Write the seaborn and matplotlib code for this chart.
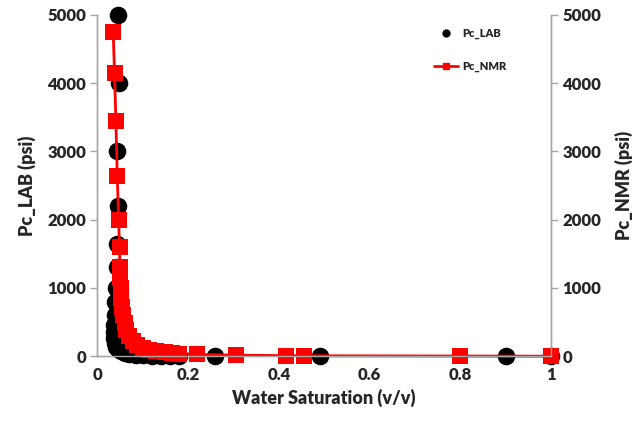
import matplotlib
matplotlib.use("Agg")
import matplotlib.pyplot as plt
import seaborn as sns
import pandas as pd
from matplotlib.lines import Line2D

# Data
lab_sw = [0.046, 0.048, 0.044, 0.045, 0.043, 0.044, 0.042, 0.040, 0.038, 0.036,
          0.036, 0.037, 0.039, 0.042, 0.046, 0.052, 0.060, 0.070, 0.085, 0.100,
          0.120, 0.140, 0.160, 0.180, 0.260, 0.490, 0.900, 1.000]
lab_pc = [5000, 4000, 3000, 2200, 1650, 1300, 1000, 800, 600, 450,
          350, 270, 200, 140, 100, 70, 45, 30, 18, 12,
          8, 5, 3, 2, 1, 0.5, 0.2, 0]

nmr_sw = [0.035, 0.038, 0.041, 0.044, 0.047, 0.049, 0.050, 0.051, 0.052, 0.053,
          0.055, 0.057, 0.060, 0.064, 0.070, 0.078, 0.088, 0.100, 0.115, 0.130,
          0.150, 0.165, 0.180, 0.220, 0.305, 0.415, 0.455, 0.800, 1.000]
nmr_pc = [4750, 4150, 3450, 2640, 2000, 1600, 1300, 1150, 1000, 850,
          720, 600, 480, 380, 290, 220, 160, 120, 90, 70,
          55, 45, 38, 25, 15, 8, 6, 2, 0]

x_ticks = [0, 0.2, 0.4, 0.6, 0.8, 1]
x_labels = ["0", "0.2", "0.4", "0.6", "0.8", "1"]
y_ticks = [0, 1000, 2000, 3000, 4000, 5000]

df_lab = pd.DataFrame({"Sw": lab_sw, "Pc": lab_pc})
df_nmr = pd.DataFrame({"Sw": nmr_sw, "Pc": nmr_pc})

sns.set_style("white")
plt.rcParams["font.family"] = ["Lato", "DejaVu Sans"]
W = "heavy"
plt.rcParams["font.weight"] = W

fig = plt.figure(figsize=(6.4, 4.23), dpi=100)
ax = fig.add_axes([0.152, 0.158, 0.709, 0.807])
ax2 = ax.twinx()

sns.scatterplot(data=df_lab, x="Sw", y="Pc", ax=ax, color="black", marker="o",
                s=160, edgecolor="black", linewidth=0, clip_on=False, zorder=3)
sns.lineplot(data=df_nmr, x="Sw", y="Pc", ax=ax2, color="#ff0000", marker="s",
             markersize=11, markeredgewidth=0, linewidth=2, sort=False,
             estimator=None, clip_on=False)

for a in (ax, ax2):
    a.set_xlim(0, 1)
    a.set_ylim(0, 5000)
    a.set_yticks(y_ticks)
    a.spines["top"].set_visible(False)
    for s in ("left", "right", "bottom"):
        a.spines[s].set_color("#a6a6a6")
        a.spines[s].set_linewidth(1.0)
    a.tick_params(axis="both", length=5, width=1, color="#a6a6a6",
                  labelsize=12, direction="out", pad=3)

ax.set_xticks(x_ticks)
ax.set_xticklabels(x_labels, fontweight=W)
ax.set_yticklabels([str(t) for t in y_ticks], fontweight=W)
ax2.set_yticklabels([str(t) for t in y_ticks], fontweight=W)

ax.set_xlabel("Water Saturation (v/v)", fontsize=13, fontweight=W, labelpad=4)
ax.set_ylabel("Pc_LAB (psi)", fontsize=13, fontweight=W, labelpad=8)
ax2.set_ylabel("Pc_NMR (psi)", fontsize=13, fontweight=W, labelpad=10)

ax.set_zorder(ax2.get_zorder() - 1)
ax2.patch.set_visible(False)
ax.patch.set_visible(True)

handles = [
    Line2D([], [], color="black", marker="o", linestyle="none", markersize=5),
    Line2D([], [], color="#ff0000", marker="s", linewidth=2, markersize=5),
]
leg = ax2.legend(handles, ["Pc_LAB", "Pc_NMR"], loc="upper left",
                 bbox_to_anchor=(0.72, 0.99), frameon=False, fontsize=8,
                 labelspacing=1.9, handlelength=2.2, handletextpad=0.3)
for t in leg.get_texts():
    t.set_fontweight(W)

fig.savefig("out.png", dpi=100)
